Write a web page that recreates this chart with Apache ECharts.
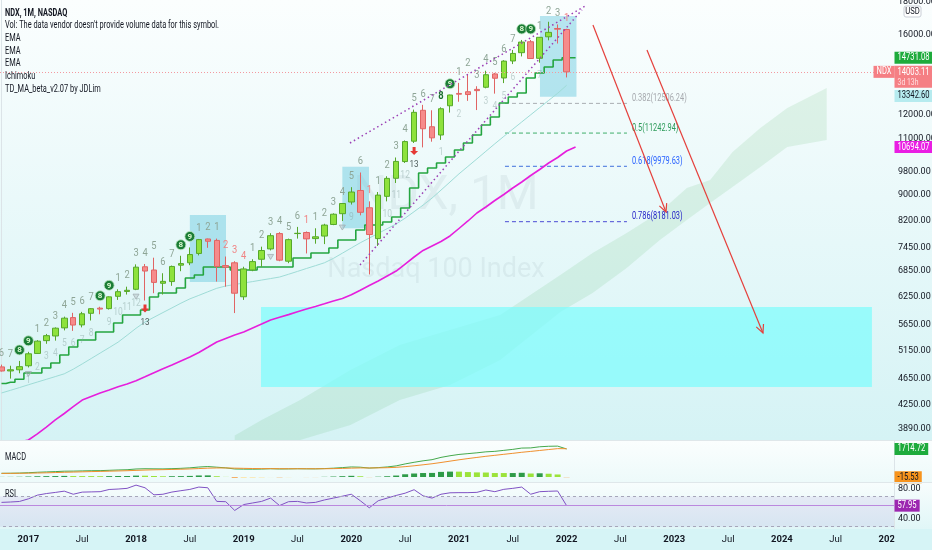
<!DOCTYPE html>
<html>
<head>
<meta charset="utf-8">
<title>NDX, 1M, NASDAQ</title>
<script src="https://cdn.jsdelivr.net/npm/echarts@6.0.0/dist/echarts.min.js"></script>
<style>
html,body{margin:0;padding:0;background:#e9f9fa;}
#chart{width:932px;height:550px;}
</style>
</head>
<body>
<div id="chart"></div>
<script>
// ---------------- DATA ----------------
const months = [
 '2016-10','2016-11','2016-12',
 '2017-01','2017-02','2017-03','2017-04','2017-05','2017-06','2017-07','2017-08','2017-09','2017-10','2017-11','2017-12',
 '2018-01','2018-02','2018-03','2018-04','2018-05','2018-06','2018-07','2018-08','2018-09','2018-10','2018-11','2018-12',
 '2019-01','2019-02','2019-03','2019-04','2019-05','2019-06','2019-07','2019-08','2019-09','2019-10','2019-11','2019-12',
 '2020-01','2020-02','2020-03','2020-04','2020-05','2020-06','2020-07','2020-08','2020-09','2020-10','2020-11','2020-12',
 '2021-01','2021-02','2021-03','2021-04','2021-05','2021-06','2021-07','2021-08','2021-09','2021-10','2021-11','2021-12',
 '2022-01','2022-02','2022-03','2022-04','2022-05','2022-06','2022-07','2022-08','2022-09','2022-10','2022-11','2022-12',
 '2023-01','2023-02','2023-03','2023-04','2023-05','2023-06','2023-07','2023-08','2023-09','2023-10','2023-11','2023-12',
 '2024-01','2024-02','2024-03','2024-04','2024-05','2024-06','2024-07','2024-08','2024-09','2024-10','2024-11','2024-12',
 '2025-01'
];

// monthly candles: [open, close, low, high]
const candles = [
 [4860,4789,4780,4900],[4790,4810,4660,4880],[4810,4864,4750,4965],
 [4880,5094,4850,5130],[5100,5330,5090,5350],[5340,5436,5280,5470],[5430,5584,5340,5600],[5590,5788,5540,5820],[5800,5647,5530,5900],
 [5650,5880,5600,5920],[5890,5988,5740,6000],[6000,5980,5870,6030],[5990,6248,5970,6260],[6260,6365,6180,6420],[6370,6397,6300,6480],
 [6420,6950,6400,7020],[6960,6854,6166,7030],[6880,6581,6330,7190],[6560,6605,6300,6800],[6600,6968,6500,6990],[7000,7040,6850,7240],
 [7060,7272,7000,7460],[7300,7672,7250,7690],[7690,7627,7450,7700],[7650,6967,6600,7700],[6990,6949,6480,7220],[7060,6330,5895,7100],
 [6250,6906,6180,6960],[6880,7090,6850,7150],[7150,7378,6960,7480],[7420,7781,7380,7850],[7840,7127,7100,7880],[7100,7671,7050,7700],
 [7840,7848,7700,8030],[7870,7692,7300,7900],[7700,7750,7560,7990],[7770,8083,7550,8120],[8100,8404,8080,8430],[8420,8733,8200,8740],
 [8780,9100,8700,9260],[9150,8462,8370,9760],[8600,7813,6771,8800],[7700,9000,7500,9100],[8960,9556,8800,9630],[9560,10156,9400,10300],
 [10150,10905,10100,10950],[10920,12111,10850,12230],[12200,11418,10680,12440],[11500,11052,10900,12200],[11165,12268,10970,12330],[12400,12888,12100,12900],
 [12960,12925,12580,13460],[13040,12909,12620,13880],[13150,13091,12210,13300],[13250,13860,13200,14060],[13900,13686,12950,13950],[13700,14554,13450,14600],
 [14560,14960,14400,15150],[15000,15582,14800,15700],[15600,14689,14670,15700],[14700,15850,14470,15870],[15880,16135,15680,16760],[16360,16320,15500,16600],
 [16300,14003.11,13725,16340]
];

// stepped TD moving average (green)
const tdMA = [4580,4600,4650,4755,4755,4841,4928,5072,5219,5352,5352,5509,5509,5688,5855,5855,5960,6245,6335,6335,
 6450,6685,6758,6955,6955,6955,6880,6880,6880,6955,6955,6955,6955,7183,7183,7313,7313,7445,7661,7661,
 7941,8085,8085,8173,8320,8594,9232,9742,9920,10099,10318,10581,10849,11165,11573,11910,12524,12795,12981,13699,
 13946,14250,14613,14731.08,14731.08];

// EMA (light teal)
const emaTeal = [4426,4468,4512,4558,4603,4648,4694,4741,4820,4912,5008,5107,5207,5311,5443,5582,5709,5807,5906,6005,
 6107,6203,6281,6362,6443,6496,6531,6567,6600,6636,6672,6708,6775,6845,6917,6987,7060,7172,7307,7445,
 7586,7714,7845,7979,8115,8285,8480,8683,8904,9163,9433,9712,9976,10248,10531,10819,11109,11400,11699,12005,
 12318,12640,12966,13342.60];

// EMA (magenta)
const emaMagenta = [3672,3699,3712,3739,3821,3917,4018,4112,4213,4315,4370,4425,4473,4525,4571,4626,4691,4760,4829,4893,
 4964,5036,5117,5214,5314,5381,5449,5509,5589,5669,5751,5807,5862,5922,5981,6037,6094,6154,6211,6295,
 6397,6508,6614,6733,6854,7028,7208,7379,7499,7621,7773,7984,8202,8441,8624,8827,9019,9232,9433,9656,
 9866,10099,10299,10542,10694.07];

// Ichimoku cloud (projected), month index / upper / lower
const cloudX   = [26,29,33.3,38.9,44.4,50,55.6,62.3,65.9,69.7,73.4,76.4,79,81.5,84.6,87.6,92];
const cloudTop = [3800,4018,4315,4807,5258,5547,5855,6758,7313,7856,8469,9232,9501,10504,11450,12301,13216];
const cloudBot = [3600,3673,3739,3946,4315,4555,4981,5919,6335,6930,7661,8232,8749,9265,9955,10694,10968];

// boxes: [fromIndex, toIndex, topPrice, bottomPrice]
const smallBoxes = [[21.0,25.03,8381,6590],[38.0,40.97,9965,7990],[60.03,64.1,17110,12810]];
const bigBox = [28.93,97.04,6025,4523];

// fib retracement
const fibRatios = ['0.382','0.5','0.618','0.786'];
const fibValues = [12506.24,11242.94,9979.63,8181.03];
const fibSpan = [56.13,69.73];

// trend lines and arrows: [[index, price],[index, price]]
const trendLines = [[[38.85,10849],[65.27,17799]],[[39.97,7005],[64.71,17489]]];
const arrows = [[[65.94,16567],[74.08,8469]],[[71.96,15146],[84.89,5490]]];

// TD sequential counts above candles (c = circled, r = red, b = bold)
const tdTop = ['6','7','8c','9c','1','2','3','4','5','6','7','8c','9c','1','2','3','4','5','6','7','8c','9c','1','2',
 '1','2r','3r','4r','1','2','3','4','5','6','1r','1','2','3','4','5','6','1r','1','2','3','4','5','6','7','8b','9c',
 '1','2','3','4','5','6','7','8c','9c','1','2','3','1r'];
const tdBot = [[3,'1'],[4,'2'],[5,'3'],[6,'4'],[7,'5'],[8,'6'],[9,'7'],[10,'8'],[12,'9'],[13,'10'],[14,'11'],[15,'12'],
 [39,'9'],[43,'10'],[44,'11'],[45,'12'],[49,'1'],[51,'2'],[54,'3'],[55,'4'],[56,'5'],[57,'6'],[60,'7']];
const tdThirteen = [16,46];
const tdTri = [3,15,30,38];

// MACD
const macd = [226,230,240,262,290,310,330,355,360,372,385,390,410,430,445,490,505,500,495,510,530,560,610,640,600,560,490,480,478,485,
 505,490,495,505,500,498,515,540,575,615,600,545,575,615,680,800,900,990,1060,1200,1300,1380,1430,1480,1540,1570,1630,1690,1770,1780,
 1850,1880,1890,1714.72];
const signal = [220,222,226,233,244,257,272,288,302,316,330,342,356,370,385,405,425,440,450,462,476,493,516,541,553,554,541,529,519,512,
 511,507,505,505,504,503,505,512,525,543,555,553,558,569,591,633,686,747,810,888,970,1052,1128,1198,1266,1327,1388,1448,1512,1566,
 1623,1680,1735,1730.25];
const hist = [6,8,14,29,46,53,58,67,58,56,55,48,54,60,60,85,80,60,45,48,54,67,94,99,47,6,-51,-49,-41,-27,
 -6,-17,-10,0,-4,-5,10,28,50,72,45,-8,17,46,89,167,214,243,250,312,330,328,302,282,274,243,242,242,258,214,
 227,200,155,-15.53];

// RSI
const rsi = [62.3,62.8,63.5,67,71.9,74,75.5,77.2,73.1,75.9,76.2,76.5,79.4,80,80.9,85.2,81.7,72.3,73.1,76,
 77.8,79.5,82.6,81.7,63.6,63.2,51.6,59.4,61.5,63.6,68,58.1,63.2,63.6,61.5,62.3,65.5,68,70.5,73.1,
 64.5,55.1,64.5,68,71.5,74.5,79.1,71,68,73.1,75,75.2,75.2,75.6,78.7,76.5,79.6,80.9,82.6,73.1,
 76.5,77,77.4,57.95];

// axis ticks
const priceTicks = [3890,4250,4650,5150,5650,6250,6850,7450,8200,9000,9800,11000,12000,16000,18000];
const rsiTicks = [40,80];
const rsiBands = [70,30];

// last-value tags
const priceTagValues = [14731.08,14003.11,14003.11,13342.60,10694.07];
const macdTagValues = [1714.72,-15.53];
const rsiTagValues = [57.95];

const legendLines = ['NDX, 1M, NASDAQ',"Vol: The data vendor doesn't provide volume data for this symbol.",'EMA','EMA','EMA','Ichimoku','TD_MA_beta_v2.07 by JDLim'];

// ---------------- STYLE ----------------
const FONT = "Roboto,'Liberation Sans',sans-serif";
const TXT = '#131722';
const SQ = 0.74;   // horizontal squeeze of the narrow UI text
const TAGSQ = 0.76;
const priceTagStyles = [
 {bg:'#1eab3c', fg:'#ffffff'},
 {bg:'#f57f84', fg:'#ffffff', sub:'3d 13h'},
 {bg:'#f57f84', fg:'#ffffff', label:'NDX', xo:-21},
 {bg:'#b6ebef', fg:TXT, dy:10.6},
 {bg:'#e91ee3', fg:'#ffffff'}
];
const macdTagStyles = [{bg:'#1eab3c', fg:'#ffffff'},{bg:'#f7941d', fg:TXT}];
const rsiTagStyles = [{bg:'#9c27b0', fg:'#ffffff'}];
const fibLine = ['#a9adb2','#3fae6a','#3f6fdc','#4a4ad4'];
const fibText = ['#a6a9ae','#2f9c5c','#2962ff','#2525c8'];

function lg(c0, c1){ return new echarts.graphic.LinearGradient(0,0,0,1,[{offset:0,color:c0},{offset:1,color:c1}]); }
function cs(o){ return Object.assign({type:'custom', silent:true, animation:false}, o); }

function tagSeries(xi, yi, values, styles){
  return cs({
    xAxisIndex:xi, yAxisIndex:yi, z:20, clip:false,
    data: values.map((v,k)=>[0,v,k]),
    renderItem(params, api){
      const k = api.value(2), st = styles[k], v = values[k];
      const c = params.coordSys;
      const y = api.coord([0, v])[1] + (st.dy || 0);
      const x = c.x + c.width + (st.xo || 0) + 0.5;
      const style = {text: st.label ? st.label : v.toFixed(2), fill:st.fg, backgroundColor:st.bg, padding:[1,4,0,4],
        fontSize:10, fontFamily:FONT, align:'left', verticalAlign:'middle', lineHeight:11};
      if (st.sub){
        style.text = '{a|'+v.toFixed(2)+'}\n{b|'+st.sub+'}';
        style.verticalAlign = 'top';
        style.rich = {a:{fill:st.fg, fontSize:10, fontFamily:FONT, lineHeight:11}, b:{fill:'#ffe1e3', fontSize:9, fontFamily:FONT, lineHeight:10}};
        return {type:'text', x, y:y-6, scaleX:TAGSQ, style};
      }
      return {type:'text', x, y, scaleX:TAGSQ, style};
    }
  });
}

const option = {
  animation:false,
  backgroundColor:'#e9f9fa',
  textStyle:{fontFamily:FONT},
  grid:[
    {left:-3, right:38, top:0, height:440, outerBoundsMode:'none', containLabel:false},
    {left:-3, right:38, top:441, height:41, outerBoundsMode:'none', containLabel:false},
    {left:-3, right:38, top:483, height:46, outerBoundsMode:'none', containLabel:false}
  ],
  xAxis:[
    {type:'category', gridIndex:0, data:months, boundaryGap:true, show:false},
    {type:'category', gridIndex:1, data:months, boundaryGap:true, show:false},
    {type:'category', gridIndex:2, data:months, boundaryGap:true,
      axisLine:{show:false}, axisTick:{show:false}, splitLine:{show:false},
      axisLabel:{
        interval:(idx, val)=> /-(01|07)$/.test(val),
        margin:6,
        formatter:(val)=> val.endsWith('-01') ? '{y|'+val.slice(0,4)+'}' : '{m|Jul}',
        rich:{y:{fontWeight:'bold', fontSize:9.5, color:TXT, fontFamily:FONT}, m:{fontSize:9.5, color:TXT, fontFamily:FONT}}
      }},
    {type:'value', gridIndex:0, min:-0.5, max:99.5, show:false}
  ],
  yAxis:[
    {type:'log', gridIndex:0, position:'right', min:3739, max:18120,
      axisLine:{show:true, lineStyle:{color:'#dce4e8'}}, axisTick:{show:false}, splitLine:{show:false},
      axisLabel:{customValues:priceTicks, formatter:(v)=>Number(v).toFixed(2), color:TXT, fontSize:9, margin:4, fontFamily:FONT}},
    {type:'value', gridIndex:1, position:'right', min:-306, max:2203,
      axisLine:{show:true, lineStyle:{color:'#dce4e8'}}, axisTick:{show:false}, splitLine:{show:false}, axisLabel:{show:false}},
    {type:'value', gridIndex:2, position:'right', min:27, max:88,
      axisLine:{show:true, lineStyle:{color:'#dce4e8'}}, axisTick:{show:false}, splitLine:{show:false},
      axisLabel:{customValues:rsiTicks, formatter:(v)=>Number(v).toFixed(2), color:TXT, fontSize:9, margin:4, fontFamily:FONT}}
  ],
  graphic:{elements:[
    {type:'rect', silent:true, z:-10, shape:{x:0,y:0,width:932,height:440}, style:{fill:lg('#fbfefe','#d5f3f5')}},
    {type:'rect', silent:true, z:-10, shape:{x:0,y:440,width:932,height:42}, style:{fill:lg('#fbfefe','#edfafa')}},
    {type:'rect', silent:true, z:-10, shape:{x:0,y:482,width:932,height:47}, style:{fill:lg('#f8fdfd','#e0f6f7')}},
    {type:'rect', silent:true, z:-10, shape:{x:0,y:529,width:932,height:21}, style:{fill:'#d6f4f6'}},
    {type:'text', silent:true, z:-5, x:446, y:197, style:{text:'NDX, 1M', font:'48px Roboto, sans-serif', fill:'rgba(80,100,110,0.08)', align:'center', verticalAlign:'middle'}},
    {type:'text', silent:true, z:-5, x:436, y:270, style:{text:'Nasdaq 100 Index', font:'27px Roboto, sans-serif', fill:'rgba(80,100,110,0.08)', align:'center', verticalAlign:'middle'}},
    {type:'line', silent:true, z:30, shape:{x1:0,y1:440.5,x2:932,y2:440.5}, style:{stroke:'#dfe7ea', lineWidth:1}},
    {type:'line', silent:true, z:30, shape:{x1:0,y1:482.5,x2:932,y2:482.5}, style:{stroke:'#dfe7ea', lineWidth:1}},
    {type:'rect', silent:true, z:40, shape:{x:894.5,y:529,width:38,height:21}, style:{fill:'#d6f4f6'}},
    {type:'rect', silent:true, z:41, shape:{x:904,y:6,width:17,height:11,r:2}, style:{fill:'#ffffff', stroke:'#c9ced6', lineWidth:1}},
    {type:'text', silent:true, z:42, x:912.5, y:11.8, scaleX:0.85, style:{text:'USD', fontSize:9, fontFamily:FONT, fill:TXT, align:'center', verticalAlign:'middle'}},
    ...legendLines.map((t,k)=>({type:'text', silent:true, z:100, x:5, y:13+k*12.7, scaleX:SQ,
      style:{text:t, fontSize:10, fontWeight:k===0?'bold':'normal', fontFamily:FONT, fill:TXT, align:'left', verticalAlign:'middle'}})),
    {type:'text', silent:true, z:100, x:5, y:457, scaleX:SQ, style:{text:'MACD', fontSize:10, fontFamily:FONT, fill:TXT, align:'left', verticalAlign:'middle'}},
    {type:'text', silent:true, z:100, x:5, y:494, scaleX:SQ, style:{text:'RSI', fontSize:10, fontFamily:FONT, fill:TXT, align:'left', verticalAlign:'middle'}}
  ]},
  series:[
    // Ichimoku cloud
    cs({name:'Ichimoku', xAxisIndex:3, yAxisIndex:0, z:1, clip:true, data:[[cloudX[0], cloudTop[0]]],
      renderItem(params, api){
        const pts = [];
        for (let k=0;k<cloudX.length;k++) pts.push(api.coord([cloudX[k], cloudTop[k]]));
        for (let k=cloudX.length-1;k>=0;k--) pts.push(api.coord([cloudX[k], cloudBot[k]]));
        return {type:'polygon', shape:{points:pts}, style:{fill:'rgba(80,180,90,0.13)'}};
      }}),
    // big target box
    cs({name:'zone', xAxisIndex:3, yAxisIndex:0, z:2, clip:true, data:[[bigBox[0], bigBox[2]]],
      renderItem(params, api){
        const p0 = api.coord([bigBox[0], bigBox[2]]), p1 = api.coord([bigBox[1], bigBox[3]]);
        return {type:'rect', shape:{x:p0[0], y:p0[1], width:p1[0]-p0[0], height:p1[1]-p0[1]}, style:{fill:'rgba(125,252,252,0.72)'}};
      }}),
    // small boxes
    cs({name:'boxes', xAxisIndex:3, yAxisIndex:0, z:2, clip:true, data:smallBoxes.map((b,k)=>[b[0],b[2],k]),
      renderItem(params, api){
        const b = smallBoxes[api.value(2)];
        const p0 = api.coord([b[0], b[2]]), p1 = api.coord([b[1], b[3]]);
        return {type:'rect', shape:{x:p0[0], y:p0[1], width:p1[0]-p0[0], height:p1[1]-p0[1]}, style:{fill:'rgba(100,200,222,0.45)'}};
      }}),
    // fib levels
    cs({name:'fib', xAxisIndex:3, yAxisIndex:0, z:3, clip:false, data:fibValues.map((v,k)=>[fibSpan[0], v, k]),
      renderItem(params, api){
        const k = api.value(2), v = fibValues[k];
        const p0 = api.coord([fibSpan[0], v]), p1 = api.coord([fibSpan[1], v]);
        return {type:'group', children:[
          {type:'line', shape:{x1:p0[0], y1:p0[1], x2:p1[0], y2:p1[1]}, style:{stroke:fibLine[k], lineWidth:1, lineDash:[4,3]}},
          {type:'text', x:p1[0]+5, y:p1[1]-5, scaleX:SQ, style:{text:fibRatios[k]+'('+v.toFixed(2)+')', fill:fibText[k], fontSize:10, fontFamily:FONT, align:'left', verticalAlign:'middle'}}
        ]};
      }}),
    {type:'line', name:'EMA', xAxisIndex:0, yAxisIndex:0, data:emaTeal, symbol:'none', silent:true, z:3, lineStyle:{color:'#9fdcd7', width:1}},
    {type:'line', name:'EMA', xAxisIndex:0, yAxisIndex:0, data:emaMagenta, symbol:'none', silent:true, z:3, lineStyle:{color:'#e61fdc', width:1.6}},
    {type:'line', name:'TD_MA', xAxisIndex:0, yAxisIndex:0, data:tdMA, step:'middle', symbol:'none', silent:true, z:3, lineStyle:{color:'#24a540', width:1.6}},
    {type:'candlestick', name:'NDX', xAxisIndex:0, yAxisIndex:0, data:candles, barWidth:6, z:4, silent:true,
      itemStyle:{color:'#8ee23c', color0:'#f68b8b', borderColor:'#56a82a', borderColor0:'#e06464', borderWidth:1},
      markLine:{silent:true, symbol:'none', animation:false, label:{show:false},
        lineStyle:{type:[1,2], color:'#f39aa0', width:1}, data:[{yAxis:14003.11}]}},
    // TD counts above
    cs({name:'TD', xAxisIndex:0, yAxisIndex:0, z:5, clip:false, data:tdTop.map((s,i)=>[i, candles[i][3]]),
      renderItem(params, api){
        const i = api.value(0), s = tdTop[i];
        const p = api.coord([i, candles[i][3]]);
        const y = p[1] - 11, d = s[0], t = s.slice(1);
        if (t === 'c') return {type:'group', children:[
          {type:'circle', shape:{cx:p[0], cy:y, r:5}, style:{fill:'#1b7d36', stroke:'#bfe8c4', lineWidth:0.8}},
          {type:'text', x:p[0], y:y+0.5, style:{text:d, fill:'#d9f7cf', fontSize:8, fontWeight:'bold', fontFamily:FONT, align:'center', verticalAlign:'middle'}}
        ]};
        return {type:'text', x:p[0], y:y, scaleX:0.85, style:{text:d, fill: t==='r' ? '#f08484' : (t==='b' ? '#1d6f31' : '#8ea596'),
          fontSize:11, fontWeight: t==='b' ? 'bold' : 'normal', fontFamily:FONT, align:'center', verticalAlign:'middle'}};
      }}),
    // TD countdown below
    cs({name:'TD countdown', xAxisIndex:0, yAxisIndex:0, z:5, clip:false, data:tdBot.map((b,k)=>[b[0], candles[b[0]][2], k]),
      renderItem(params, api){
        const b = tdBot[api.value(2)];
        const p = api.coord([b[0], candles[b[0]][2]]);
        return {type:'text', x:p[0], y:p[1]+13, scaleX:0.85, style:{text:b[1], fill:'rgba(130,160,155,0.45)', fontSize:10, fontFamily:FONT, align:'center', verticalAlign:'middle'}};
      }}),
    cs({name:'TD 13', xAxisIndex:0, yAxisIndex:0, z:5, clip:false, data:tdThirteen.map(i=>[i, candles[i][2]]),
      renderItem(params, api){
        const i = api.value(0);
        const p = api.coord([i, candles[i][2]]);
        const x = p[0], y = p[1] + 8;
        return {type:'group', children:[
          {type:'polygon', shape:{points:[[x-1.5,y-4],[x+1.5,y-4],[x+1.5,y],[x+4,y],[x,y+4],[x-4,y],[x-1.5,y]]}, style:{fill:'#e53935'}},
          {type:'text', x:x, y:p[1]+22, scaleX:0.85, style:{text:'13', fill:'#4d5c5a', fontSize:9.5, fontFamily:FONT, align:'center', verticalAlign:'middle'}}
        ]};
      }}),
    cs({name:'TD perfect', xAxisIndex:0, yAxisIndex:0, z:5, clip:false, data:tdTri.map(i=>[i, candles[i][2]]),
      renderItem(params, api){
        const i = api.value(0);
        const p = api.coord([i, candles[i][2]]);
        const x = p[0], y = p[1] + 4;
        return {type:'polygon', shape:{points:[[x-3,y],[x+3,y],[x,y+5]]}, style:{fill:'rgba(160,170,175,0.35)', stroke:'#a2aeb2', lineWidth:0.8}};
      }}),
    // trend lines
    cs({name:'trend', xAxisIndex:3, yAxisIndex:0, z:6, clip:true, data:trendLines.map((l,k)=>[l[0][0], l[0][1], k]),
      renderItem(params, api){
        const l = trendLines[api.value(2)];
        const p0 = api.coord(l[0]), p1 = api.coord(l[1]);
        return {type:'line', shape:{x1:p0[0], y1:p0[1], x2:p1[0], y2:p1[1]}, style:{stroke:'#9b3fb5', lineWidth:1.5, lineDash:[1.5,3]}};
      }}),
    // arrows
    cs({name:'arrows', xAxisIndex:3, yAxisIndex:0, z:7, clip:false, data:arrows.map((a,k)=>[a[0][0], a[0][1], k]),
      renderItem(params, api){
        const a = arrows[api.value(2)];
        const p0 = api.coord(a[0]), p1 = api.coord(a[1]);
        const ang = Math.atan2(p1[1]-p0[1], p1[0]-p0[0]), L = 9, w = 0.45;
        const h1 = [p1[0]-L*Math.cos(ang-w), p1[1]-L*Math.sin(ang-w)];
        const h2 = [p1[0]-L*Math.cos(ang+w), p1[1]-L*Math.sin(ang+w)];
        return {type:'group', children:[
          {type:'line', shape:{x1:p0[0], y1:p0[1], x2:p1[0], y2:p1[1]}, style:{stroke:'#e5403c', lineWidth:1.2}},
          {type:'polyline', shape:{points:[h1, p1, h2]}, style:{stroke:'#e5403c', lineWidth:1.2, fill:null}}
        ]};
      }}),
    tagSeries(0, 0, priceTagValues, priceTagStyles),
    // MACD pane
    {type:'bar', name:'Histogram', xAxisIndex:1, yAxisIndex:1, data:hist, barWidth:6, silent:true, z:2,
      itemStyle:{color:(p)=>{ const i=p.dataIndex, v=hist[i], pv = i>0 ? hist[i-1] : v;
        return v >= 0 ? (v >= pv ? '#2e9b48' : '#9be33a') : (v <= pv ? '#f5a04a' : '#fde3a0'); }}},
    {type:'line', name:'MACD', xAxisIndex:1, yAxisIndex:1, data:macd, symbol:'none', silent:true, z:3, lineStyle:{color:'#45a94c', width:1}},
    {type:'line', name:'Signal', xAxisIndex:1, yAxisIndex:1, data:signal, symbol:'none', silent:true, z:3, lineStyle:{color:'#f0902e', width:1}},
    tagSeries(1, 1, macdTagValues, macdTagStyles),
    // RSI pane
    {type:'line', name:'RSI', xAxisIndex:2, yAxisIndex:2, data:rsi, symbol:'none', silent:true, z:3, lineStyle:{color:'#8052c4', width:1},
      markArea:{silent:true, itemStyle:{color:'rgba(126,87,194,0.10)'}, data:[[{yAxis:rsiBands[0]},{yAxis:rsiBands[1]}]]},
      markLine:{silent:true, symbol:'none', animation:false, label:{show:false},
        data:[
          {yAxis:rsiBands[0], lineStyle:{type:[3,3], color:'#a6a6ba', width:1}},
          {yAxis:rsiBands[1], lineStyle:{type:[3,3], color:'#a6a6ba', width:1}},
          {yAxis:rsiTagValues[0], lineStyle:{type:'solid', color:'#bb88de', width:1}}
        ]}},
    tagSeries(2, 2, rsiTagValues, rsiTagStyles)
  ]
};

const chart = echarts.init(document.getElementById('chart'), null, {renderer:'canvas'});
chart.setOption(option);
</script>
</body>
</html>
